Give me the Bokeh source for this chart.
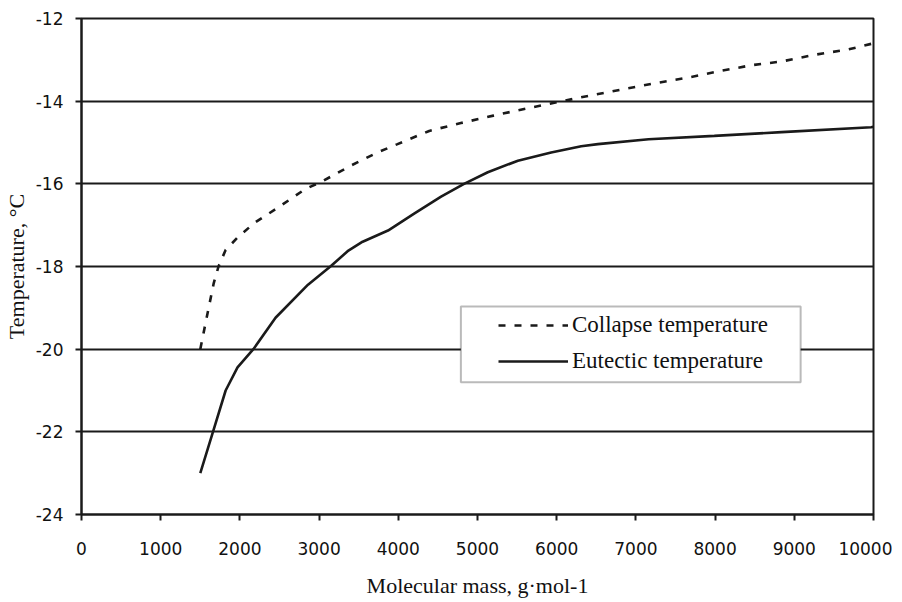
from bokeh.plotting import figure
from bokeh.models import (Range1d, FixedTicker, Legend, LegendItem, BoxAnnotation)
from bokeh.embed import file_html
from bokeh.resources import INLINE

# ---- data ----
collapse_mass = [1500, 1580, 1670, 1730, 1820, 1970, 2180, 2500, 2830, 3020, 3400,
                 3750, 3990, 4390, 4790, 5200, 5590, 6020, 6430, 6840, 7230, 7660,
                 8040, 8460, 8840, 9250, 9680, 10000]
collapse_temp = [-20.0, -19.24, -18.4, -18.0, -17.6, -17.3, -16.95, -16.55, -16.12,
                 -15.96, -15.56, -15.23, -15.04, -14.72, -14.53, -14.35, -14.19,
                 -14.02, -13.86, -13.71, -13.57, -13.43, -13.28, -13.13, -13.04,
                 -12.88, -12.75, -12.6]

eutectic_mass = [1500, 1660, 1820, 1970, 2170, 2450, 2860, 3150, 3360, 3550, 3870,
                 4200, 4540, 4830, 5130, 5510, 5930, 6310, 6520, 7160, 7990, 8840,
                 9970, 10000]
eutectic_temp = [-23.0, -22.0, -21.0, -20.44, -20.0, -19.24, -18.44, -17.99, -17.63,
                 -17.4, -17.13, -16.72, -16.31, -16.0, -15.72, -15.44, -15.24, -15.09,
                 -15.04, -14.92, -14.84, -14.75, -14.63, -14.62]

x_ticks = [0, 1000, 2000, 3000, 4000, 5000, 6000, 7000, 8000, 9000, 10000]
y_ticks = [-24, -22, -20, -18, -16, -14, -12]
y_tick_labels = {t: "%d" % t for t in y_ticks}

series_names = ["Collapse temperature", "Eutectic temperature"]
x_title = "Molecular mass, g\u00b7mol-1"
y_title = "Temperature, \u00b0C"

SERIF = "Liberation Serif"
SANS = "DejaVu Sans"
INK = "#1a1a1a"

p = figure(width=892, height=600, output_backend="svg", toolbar_location=None,
           x_range=Range1d(0, 10000), y_range=Range1d(-24, -12),
           min_border_left=79, min_border_right=19, min_border_top=18,
           min_border_bottom=80)
p.background_fill_color = "white"
p.border_fill_color = "white"
p.outline_line_color = INK
p.outline_line_width = 2

# grid
p.xgrid.grid_line_color = None
p.ygrid.ticker = FixedTicker(ticks=y_ticks)
p.ygrid.grid_line_color = INK
p.ygrid.grid_line_width = 2

# axes
p.xaxis.ticker = FixedTicker(ticks=x_ticks)
p.yaxis.ticker = FixedTicker(ticks=y_ticks)
p.yaxis.major_label_overrides = y_tick_labels
for ax in (p.xaxis[0], p.yaxis[0]):
    ax.axis_line_color = INK
    ax.axis_line_width = 2
    ax.major_tick_line_color = INK
    ax.major_tick_line_width = 2
    ax.major_tick_in = 0
    ax.major_tick_out = 6
    ax.minor_tick_line_color = None
    ax.major_label_text_font = SANS
    ax.major_label_text_font_size = "17px"
    ax.major_label_text_color = "#111111"
    ax.axis_label_text_font = SERIF
    ax.axis_label_text_font_size = "22px"
    ax.axis_label_text_font_style = "normal"
    ax.axis_label_text_color = "#111111"

p.xaxis.axis_label = x_title
p.yaxis.axis_label = y_title
p.xaxis.major_label_standoff = 21
p.xaxis.axis_label_standoff = 15
p.yaxis.major_label_standoff = 12
p.yaxis.axis_label_standoff = 4

# curves
r_col = p.line(collapse_mass, collapse_temp, line_color=INK, line_width=2.6,
               line_dash="7 9")
r_eut = p.line(eutectic_mass, eutectic_temp, line_color=INK, line_width=2.6)

# legend frame (drawn behind the legend)
box = BoxAnnotation(left=4790, right=9080, top=-18.97, bottom=-20.8,
                    fill_color="white", fill_alpha=1.0,
                    line_color=INK, line_width=2, level="annotation")
p.add_layout(box)

legend = Legend(items=[LegendItem(label=series_names[0], renderers=[r_col]),
                       LegendItem(label=series_names[1], renderers=[r_eut])],
                location=(417, 138), orientation="vertical",
                padding=0, margin=0, spacing=6,
                glyph_width=70, glyph_height=30, label_height=30,
                label_standoff=4,
                label_text_font=SERIF, label_text_font_size="23px",
                label_text_color="#111111",
                border_line_color=None, background_fill_alpha=0.0)
p.add_layout(legend, "center")

open("out.html", "w").write(file_html(p, INLINE))
